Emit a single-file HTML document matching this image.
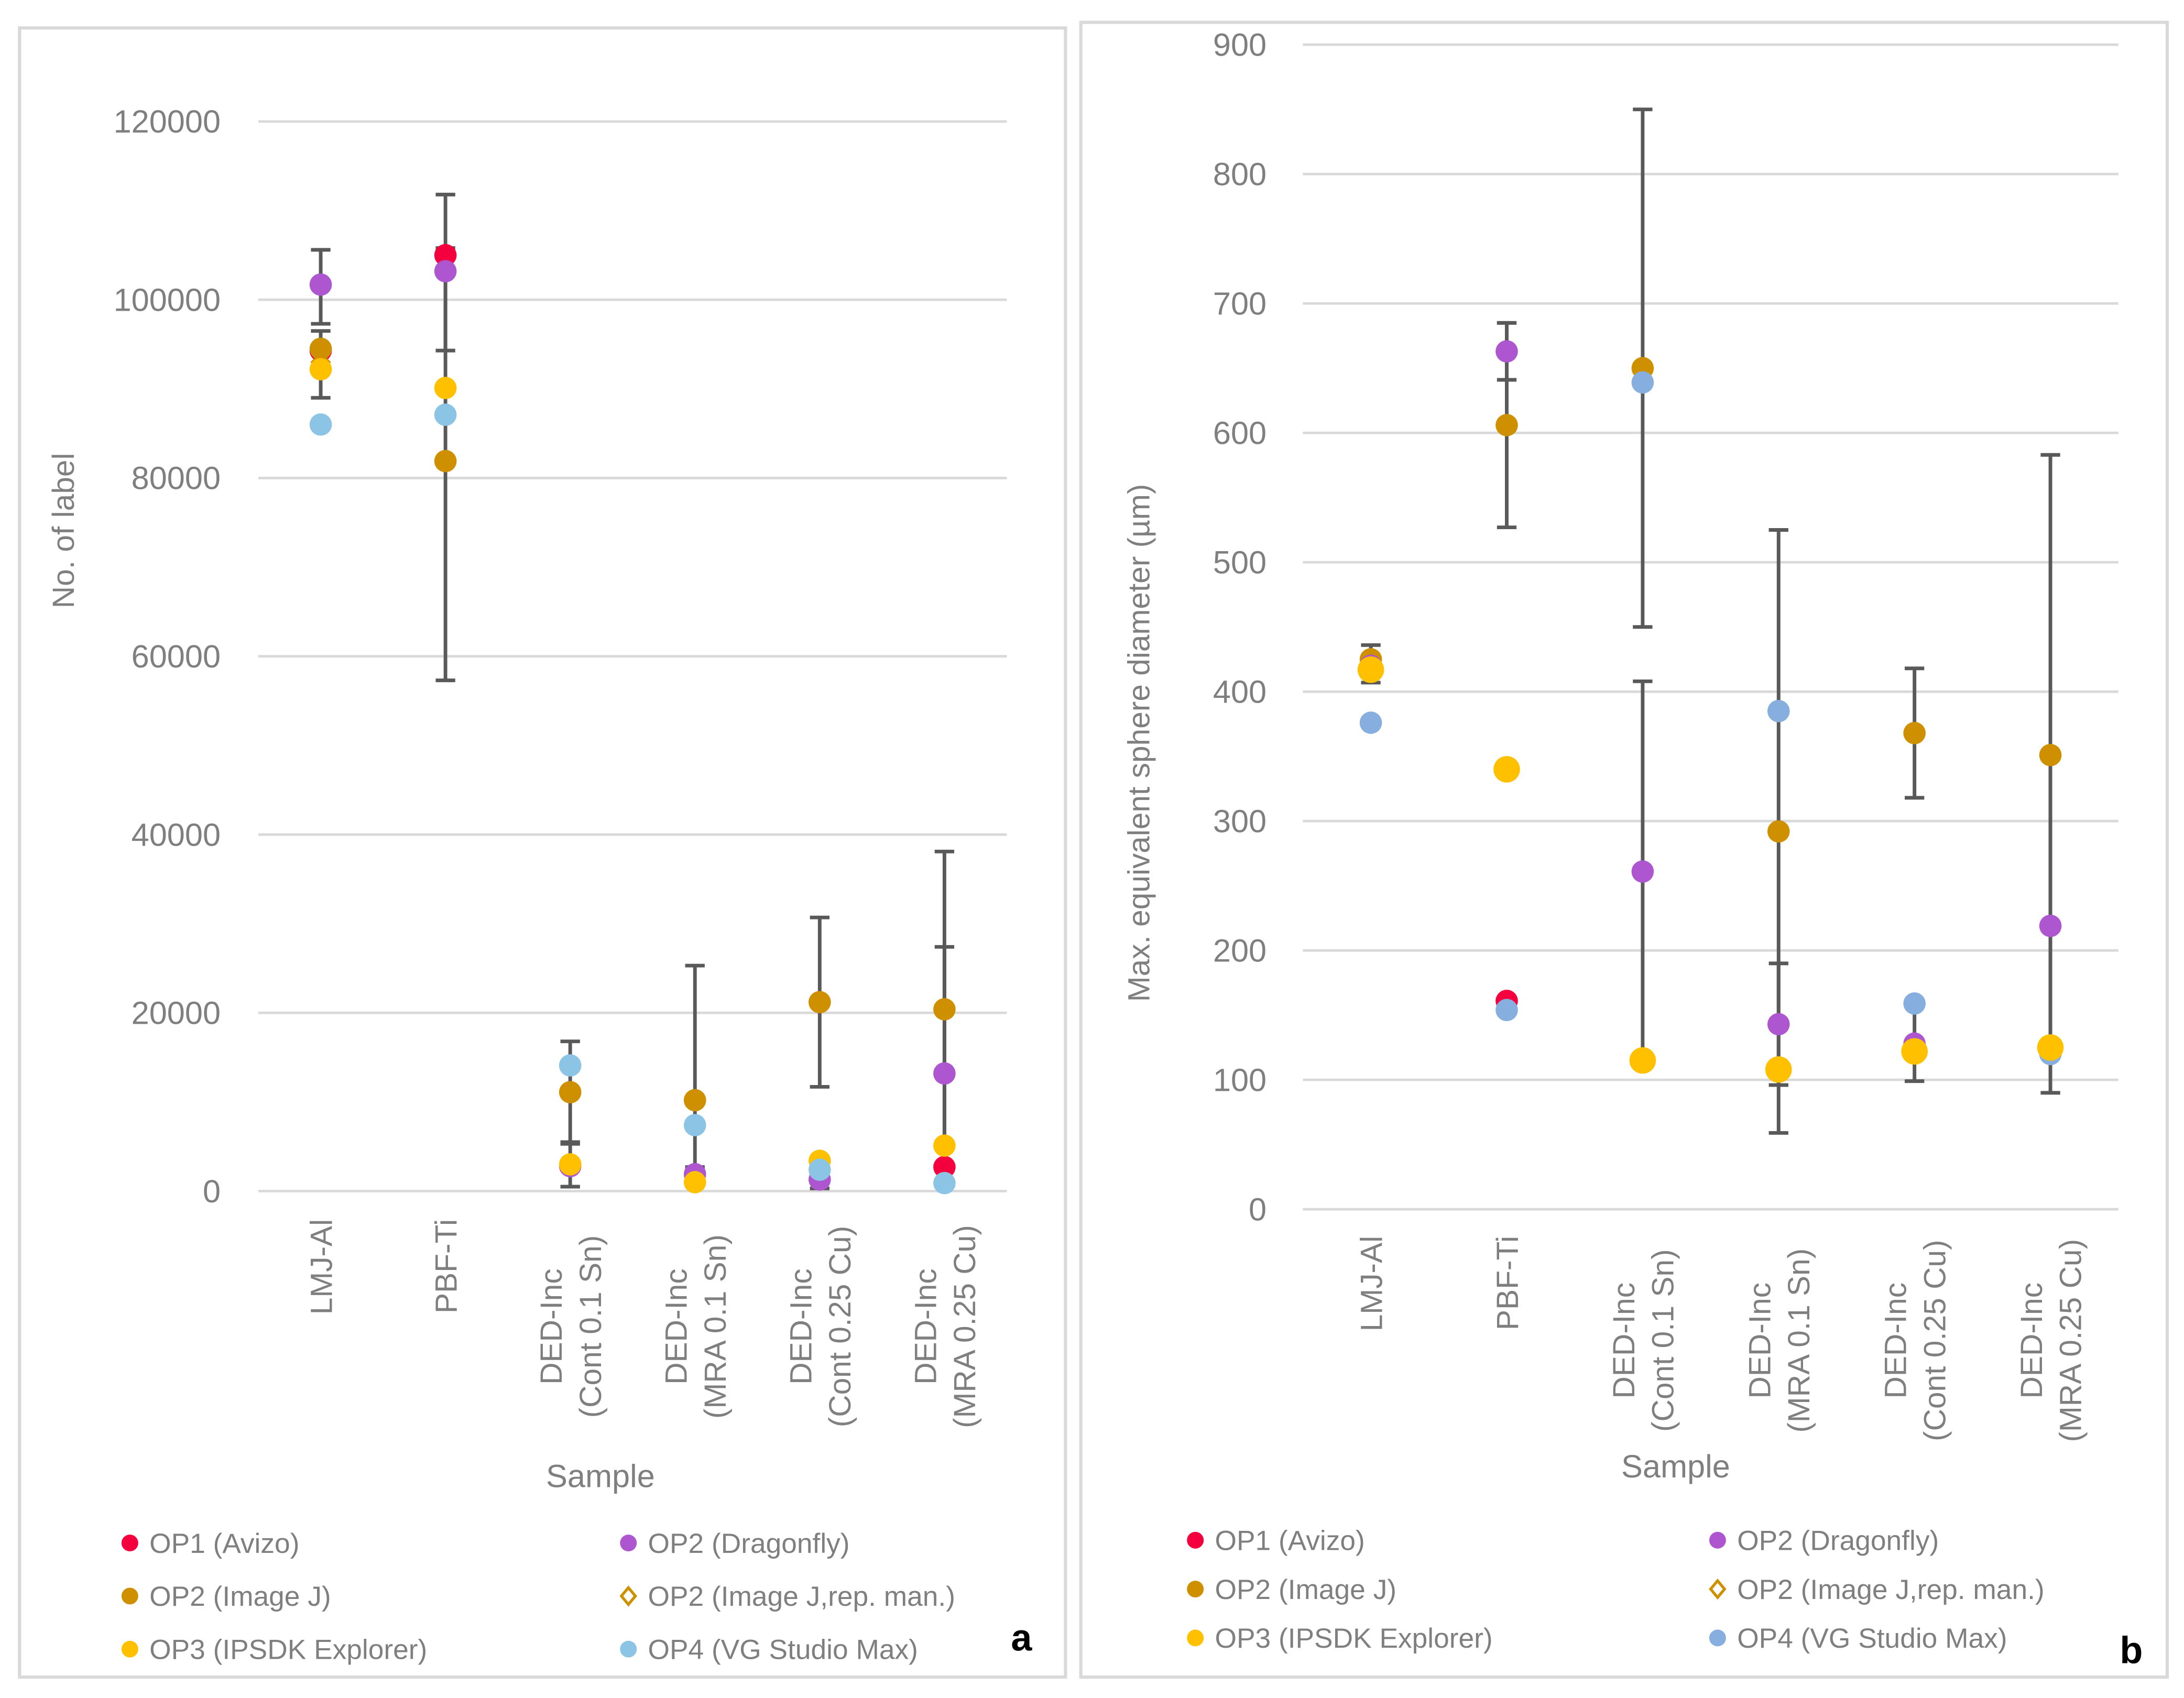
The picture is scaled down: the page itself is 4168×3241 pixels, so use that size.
<!DOCTYPE html>
<html><head><meta charset="utf-8"><style>
html,body{margin:0;padding:0;background:#fff;}
svg{display:block;}
text{font-family:"Liberation Sans",sans-serif;}
</style></head><body>
<svg id="fig" width="4168" height="3241" viewBox="0 0 1564 1216" preserveAspectRatio="none" xmlns="http://www.w3.org/2000/svg">
<rect x="14" y="20" width="749" height="1181" fill="none" stroke="#d9d9d9" stroke-width="2.3"/>
<rect x="774" y="16" width="778" height="1185" fill="none" stroke="#d9d9d9" stroke-width="2.3"/>
<g id="chartA"></g>
<g id="chartB"></g>
</svg>
<script>
const categories = [["LMJ-Al"],["PBF-Ti"],["DED-Inc","(Cont 0.1 Sn)"],["DED-Inc","(MRA 0.1 Sn)"],["DED-Inc","(Cont 0.25 Cu)"],["DED-Inc","(MRA 0.25 Cu)"]];
const seriesNames = ["OP1 (Avizo)","OP2 (Dragonfly)","OP2 (Image J)","OP2 (Image J,rep. man.)","OP3 (IPSDK Explorer)","OP4 (VG Studio Max)"];
// Chart a: No. of label
const aTicks = [0,20000,40000,60000,80000,100000,120000];
const aAvizo = [94300,105000,null,null,null,2700];
const aDragonfly = [101700,103200,2800,1900,1300,13200];
const aImageJ = [94500,81900,11100,10200,21200,20400];
const aImageJRep = [93000,null,null,null,null,null];
const aIPSDK = [92200,90100,3000,1000,3400,5100];
const aVG = [86000,87100,14100,7400,2400,900];
const aErrCat = [0,0,1,1,2,2,3,4,4,5,5];
const aErrLow = [97300,89000,94300,57300,5300,500,2700,11700,300,2700,1000];
const aErrHigh = [105600,96500,111800,105800,16800,5500,25300,30700,2400,38100,27400];
// Chart b: Max. equivalent sphere diameter
const bTicks = [0,100,200,300,400,500,600,700,800,900];
const bAvizo = [null,161,null,null,null,null];
const bDragonfly = [420,663,261,143,128,219];
const bImageJ = [425,606,650,292,368,351];
const bImageJRep = [null,null,null,null,null,null];
const bIPSDK = [417,340,115,108,122,125];
const bVG = [376,154,639,385,159,120];
const bErrCat = [0,1,1,2,2,3,3,4,4,5,5];
const bErrLow = [407,641,527,450,115,59,96,318,99,119,90];
const bErrHigh = [436,685,685,850,408,525,190,418,157,583,348];

const NS="http://www.w3.org/2000/svg";
function mk(parent,tag,attrs){const e=document.createElementNS(NS,tag);for(const k in attrs)e.setAttribute(k,attrs[k]);parent.appendChild(e);return e;}

function drawChart(g,cfg){
  const yS=v=>cfg.y0+(cfg.y1-cfg.y0)*(v-cfg.vmin)/(cfg.vmax-cfg.vmin);
  const step=(cfg.x1-cfg.x0)/categories.length;
  const xS=i=>cfg.x0+step*(i+0.5);
  cfg.ticks.forEach(t=>{
    const l=mk(g,'line',{x1:cfg.x0,x2:cfg.x1,y1:yS(t),y2:yS(t),stroke:'#d9d9d9','stroke-width':1.8});
    
    
    const tx=mk(g,'text',{x:cfg.tickX,y:yS(t)+8,'text-anchor':'end','font-size':23,fill:'#7f7f7f'});
    tx.textContent=t;
    
    
  });
  categories.forEach((c,i)=>{
    const x=xS(i);
    if(c.length===1){
      const t=mk(g,'text',{transform:`translate(${x+8},${cfg.labTop}) rotate(-90)`,'text-anchor':'end','font-size':22,fill:'#7f7f7f'});
      t.textContent=c[0];
      
      
    } else {
      c.forEach((s,k)=>{
        const t=mk(g,'text',{transform:`translate(${x-6+k*28},${cfg.labMid}) rotate(-90)`,'text-anchor':'middle','font-size':22,fill:'#7f7f7f'});
        t.textContent=s;
        
        
      });
    }
  });
  cfg.errCat.forEach((ci,k)=>{
    const x=xS(ci),ya=yS(cfg.errLow[k]),yb=yS(cfg.errHigh[k]);
    const l=mk(g,'path',{d:`M${x},${ya}V${yb}M${x-7},${ya}H${x+7}M${x-7},${yb}H${x+7}`,stroke:'#595959','stroke-width':2.6,fill:'none'});
    
    
  });
  const series=[[cfg.avizo,'#f5003f',8],[cfg.imageJ,'#cf9000',8],[cfg.rep,'diamond',6],[cfg.dragonfly,'#ad56d0',8],[cfg.vg,cfg.vgColor,8],[cfg.ipsdk,'#ffc000',cfg.ipsdkR]];
  cfg.order.forEach(si=>{
    const [vals,col,r]=series[si];
    vals.forEach((v,i)=>{
      if(v===null)return;
      let m;
      if(col==='diamond'){
        m=mk(g,'path',{d:`M${xS(i)},${yS(v)-r}l${r},${r}l${-r},${r}l${-r},${-r}z`,fill:'none',stroke:'#cf9000','stroke-width':2});
      } else {
        m=mk(g,'ellipse',{cx:xS(i),cy:yS(v),rx:r,ry:r,fill:col});
      }
      
      
    });
  });
  const yt=mk(g,'text',{transform:`translate(${cfg.titleX},${cfg.titleY}) rotate(-90)`,'text-anchor':'middle','font-size':22,fill:'#7f7f7f'});
  yt.textContent=cfg.yTitle;
  
  
  const xt=mk(g,'text',{x:cfg.sampleX,y:cfg.sampleY,'text-anchor':'middle','font-size':23,fill:'#7f7f7f'});
  xt.textContent='Sample';
  
  
  const cols=['#f5003f','#ad56d0','#cf9000','diamond','#ffc000',cfg.vgColor];
  seriesNames.forEach((n,k)=>{
    const col=k%2, row=Math.floor(k/2);
    const mx=cfg.legX[col], my=cfg.legY[row];
    let m;
    if(cols[k]==='diamond') m=mk(g,'path',{d:`M${mx},${my-6}l5,6l-5,6l-5,-6z`,fill:'none',stroke:'#cf9000','stroke-width':2});
    else m=mk(g,'ellipse',{cx:mx,cy:my,rx:6,ry:6,fill:cols[k]});
    
    
    const t=mk(g,'text',{x:mx+14,y:my+7,'font-size':20,fill:'#7f7f7f'});
    t.textContent=n;
    
    
  });
  const p=mk(g,'text',{x:cfg.panelX,y:cfg.panelY,'font-size':27,'font-weight':'bold',fill:'#000','font-family':'Liberation Serif, serif'});
  p.textContent=cfg.panel;
  
  
}

drawChart(document.getElementById('chartA'),{x0:185,x1:721,y0:853,y1:87,vmin:0,vmax:120000,ticks:aTicks,tickX:158,
  labTop:873,labMid:950,errCat:aErrCat,errLow:aErrLow,errHigh:aErrHigh,
  avizo:aAvizo,dragonfly:aDragonfly,imageJ:aImageJ,rep:aImageJRep,ipsdk:aIPSDK,vg:aVG,vgColor:'#8cc4e6',ipsdkR:8,
  order:[0,3,1,2,5,4],
  yTitle:'No. of label',titleX:53,titleY:380,sampleX:430,sampleY:1065,
  legX:[93,450],legY:[1105,1143,1181],panel:'a',panelX:724,panelY:1182});
drawChart(document.getElementById('chartB'),{x0:933,x1:1517,y0:866,y1:32,vmin:0,vmax:900,ticks:bTicks,tickX:907,
  labTop:885,labMid:960,errCat:bErrCat,errLow:bErrLow,errHigh:bErrHigh,
  avizo:bAvizo,dragonfly:bDragonfly,imageJ:bImageJ,rep:bImageJRep,ipsdk:bIPSDK,vg:bVG,vgColor:'#86aede',ipsdkR:9.5,
  order:[0,1,2,3,4,5],
  yTitle:'Max. equivalent sphere diameter (µm)',titleX:823,titleY:532,sampleX:1200,sampleY:1058,
  legX:[856,1230],legY:[1103,1138,1173],panel:'b',panelX:1518,panelY:1191});
</script>
</body></html>
